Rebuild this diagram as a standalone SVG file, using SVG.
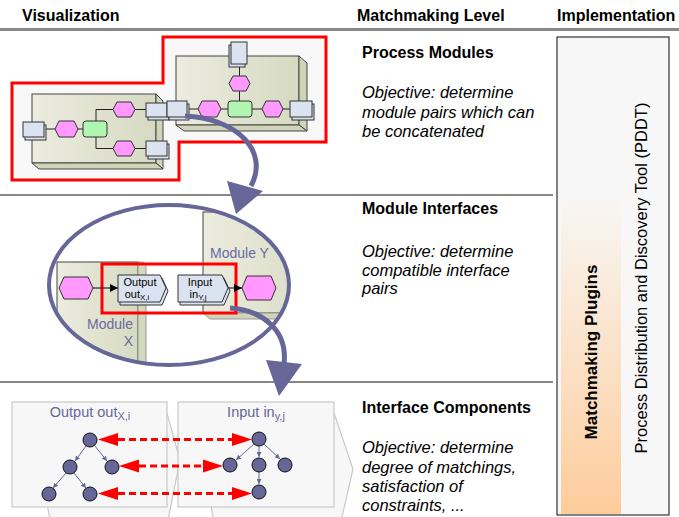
<svg xmlns="http://www.w3.org/2000/svg" width="679" height="517" viewBox="0 0 679 517">
<style>
text{font-family:"Liberation Sans",Arial,sans-serif;fill:#000}
.hdr{font-weight:bold;font-size:16px}
.ttl{font-weight:bold;font-size:16px}
.obj{font-style:italic;font-size:16.5px}
.mod{fill:url(#modg);stroke:#444;stroke-width:1}
.side{fill:#d0d4b8;stroke:#444;stroke-width:1}
.hex{fill:#ff99ff;stroke:#333;stroke-width:1}
.grn{fill:#b0f5b0;stroke:#333;stroke-width:1}
.ifc{fill:#dce3f0;stroke:#333;stroke-width:1}
.ln{stroke:#222;stroke-width:1;fill:none}
.blue{stroke:#666699;stroke-width:5;fill:none}
.bluefill{fill:#666699}
.lbl{fill:#6a6aa0;font-size:14px}
.node{fill:#666699;stroke:#111;stroke-width:1}
.tedge{stroke:#666699;stroke-width:1;fill:none;marker-end:url(#ta)}
.dash{stroke:#ff0000;stroke-width:3;stroke-dasharray:7,4;fill:none}
.redhead{fill:#ff0000}
.pane{fill:#f7f7f7;stroke:#c8c8c8;stroke-width:1.2}
.ttl2{fill:#666699;font-size:14.5px}
.small{font-size:11px}
</style>
<defs>
<linearGradient id="modg" x1="0" y1="0" x2="1" y2="0">
<stop offset="0" stop-color="#ececdf"/>
<stop offset="1" stop-color="#d6dac2"/>
</linearGradient>
<linearGradient id="plug" x1="0" y1="0" x2="0" y2="1">
<stop offset="0" stop-color="#f8f6f3"/>
<stop offset="1" stop-color="#fecc9c"/>
</linearGradient>
<marker id="ba" viewBox="0 0 10 10" refX="10" refY="5" markerWidth="8" markerHeight="8" orient="auto" markerUnits="userSpaceOnUse">
<path d="M0,0 L10,5 L0,10 z" fill="#000"/>
</marker>
<marker id="ta" viewBox="0 0 10 10" refX="10" refY="5" markerWidth="5" markerHeight="5" orient="auto" markerUnits="userSpaceOnUse">
<path d="M0,0 L10,5 L0,10 z" fill="#666699"/>
</marker>
<clipPath id="ell"><ellipse cx="169" cy="285" rx="120" ry="80"/></clipPath>
</defs>

<!-- headers -->
<g id="headers">
<text class="hdr" x="22" y="21">Visualization</text>
<text class="hdr" x="357" y="21">Matchmaking Level</text>
<text class="hdr" x="557" y="21">Implementation</text>
<line x1="0" y1="29.5" x2="679" y2="29.5" stroke="#888" stroke-width="3"/>
<line x1="0" y1="195" x2="553" y2="195" stroke="#111" stroke-width="1"/>
<line x1="0" y1="382" x2="553" y2="382" stroke="#111" stroke-width="1"/>
</g>

<!-- implementation column -->
<g id="pddt">
<rect x="557" y="37" width="112" height="478" fill="#f7f7f7" stroke="#333" stroke-width="1.2"/>
<text font-size="16.5" transform="translate(647,278) rotate(-90)" text-anchor="middle">Process Distribution and Discovery Tool (PDDT)</text>
</g>
<g id="plugins">
<rect x="561" y="200" width="60" height="314" fill="url(#plug)"/>
<text font-size="17" font-weight="bold" transform="translate(597,352) rotate(-90)" text-anchor="middle">Matchmaking Plugins</text>
</g>

<!-- level texts -->
<g id="level1">
<text class="ttl" x="362" y="58">Process Modules</text>
<text class="obj" x="362" y="98">Objective: determine</text>
<text class="obj" x="362" y="118">module pairs which can</text>
<text class="obj" x="362" y="137">be concatenated</text>
</g>
<g id="level2">
<text class="ttl" x="362" y="214">Module Interfaces</text>
<text class="obj" x="362" y="257">Objective: determine</text>
<text class="obj" x="362" y="276">compatible interface</text>
<text class="obj" x="362" y="294">pairs</text>
</g>
<g id="level3">
<text class="ttl" x="362" y="413">Interface Components</text>
<text class="obj" x="362" y="453">Objective: determine</text>
<text class="obj" x="362" y="473">degree of matchings,</text>
<text class="obj" x="362" y="492">satisfaction of</text>
<text class="obj" x="362" y="511">constraints, ...</text>
</g>

<!-- top: process modules -->
<g id="process-modules">
<polygon points="12,83 163,83 163,37 326,37 326,142 179,142 179,180 12,180" fill="#f8f8f8" stroke="#ff0000" stroke-width="3"/>
<!-- left module -->
<g id="moduleA">
<rect class="mod" x="32" y="94" width="124" height="69"/>
<polygon class="side" points="156,94 163,101 163,169 156,163"/>
<polygon class="side" points="32,163 156,163 163,169 39,169"/>
<line class="ln" x1="44" y1="129" x2="55" y2="129"/>
<line class="ln" x1="78" y1="129" x2="83" y2="129"/>
<polyline class="ln" points="96,121 96,109.5 113,109.5"/>
<polyline class="ln" points="96,137 96,148.5 113,148.5"/>
<line class="ln" x1="135" y1="109.5" x2="146" y2="109.5"/>
<line class="ln" x1="135" y1="148.5" x2="146" y2="148.5"/>
<rect class="ifc" x="25" y="125" width="21" height="15"/>
<rect class="ifc" x="23" y="122" width="21" height="15"/>
<polygon class="hex" points="59,121 74,121 78,129 74,137 59,137 55,129"/>
<rect class="grn" x="83" y="121" width="24" height="16" rx="3"/>
<polygon class="hex" points="117,102 131,102 135,109.5 131,117 117,117 113,109.5"/>
<polygon class="hex" points="117,141 131,141 135,148.5 131,156 117,156 113,148.5"/>
<rect class="ifc" x="148" y="106" width="21" height="14"/>
<rect class="ifc" x="146" y="103" width="21" height="14"/>
<rect class="ifc" x="148" y="144" width="21" height="15"/>
<rect class="ifc" x="146" y="141" width="21" height="15"/>
</g>
<!-- right module -->
<g id="moduleB">
<rect class="mod" x="176" y="56" width="123" height="69"/>
<polygon class="side" points="299,56 307,63 307,131 299,125"/>
<polygon class="side" points="176,125 299,125 307,131 184,131"/>
<line class="ln" x1="239.5" y1="64" x2="239.5" y2="76"/>
<line class="ln" x1="239.5" y1="91" x2="239.5" y2="101"/>
<line class="ln" x1="187" y1="109" x2="198" y2="109"/>
<line class="ln" x1="221" y1="109" x2="228" y2="109"/>
<line class="ln" x1="252" y1="109" x2="262" y2="109"/>
<line class="ln" x1="283" y1="109" x2="290" y2="109"/>
<rect class="ifc" x="229" y="45" width="16" height="22"/>
<rect class="ifc" x="231" y="42" width="16" height="22"/>
<polygon class="hex" points="233,76 246,76 250,83.5 246,91 233,91 229,83.5"/>
<rect class="ifc" x="169" y="104" width="20" height="16"/>
<rect class="ifc" x="167" y="101" width="20" height="16"/>
<polygon class="hex" points="202,101 217,101 221,109 217,117 202,117 198,109"/>
<rect class="grn" x="228" y="101" width="24" height="16" rx="3"/>
<polygon class="hex" points="266,101 279,101 283,109 279,117 266,117 262,109"/>
<rect class="ifc" x="292" y="104" width="22" height="16"/>
<rect class="ifc" x="290" y="101" width="22" height="16"/>
</g>
</g>

<!-- middle: module interfaces -->
<g id="module-interfaces">
<g clip-path="url(#ell)">
<g id="moduleX">
<rect class="mod" x="57" y="262" width="81" height="140" stroke="#999"/>
<path d="M138,262 L142,262 Q146,262 146,267 L146,402 L138,402 z" fill="#d4d8bd" stroke="#999"/>
</g>
<g id="moduleY">
<rect class="mod" x="203" y="212" width="130" height="101" stroke="#999"/>
<polygon points="203,313 333,313 340,319 210,319" fill="#d0d4b8" stroke="#999"/>
</g>
</g>
<text class="lbl" x="133" y="329" text-anchor="end">Module</text>
<text class="lbl" x="133" y="346" text-anchor="end">X</text>
<text class="lbl" x="210" y="258">Module Y</text>
<ellipse cx="169" cy="285" rx="120" ry="80" fill="none" stroke="#666699" stroke-width="4"/>
<rect x="102" y="264" width="134" height="49" fill="none" stroke="#ff0000" stroke-width="3"/>
<polygon class="hex" points="64,277 88,277 93,288 88,299 64,299 59,288"/>
<polygon class="hex" points="247,276 271,276 276,288 271,300 247,300 242,288"/>
<line x1="93" y1="288" x2="118" y2="288" stroke="#000" stroke-width="1" marker-end="url(#ba)"/>
<line x1="227" y1="288" x2="242" y2="288" stroke="#000" stroke-width="1" marker-end="url(#ba)"/>
<g id="outputX">
<polygon class="ifc" points="120,278 162,278 168,291 162,305 120,305"/>
<polygon class="ifc" points="118,275 160,275 166,288 160,302 118,302"/>
<text class="small" x="140" y="285.5" text-anchor="middle">Output</text>
<text class="small" x="137" y="298" text-anchor="middle">out<tspan font-size="8" dy="2">X,i</tspan></text>
</g>
<g id="inputY">
<polygon class="ifc" points="180,278 224,278 230,291 224,305 180,305"/>
<polygon class="ifc" points="178,275 222,275 228,288 222,302 178,302"/>
<text class="small" x="200" y="285.5" text-anchor="middle">Input</text>
<text class="small" x="198" y="298" text-anchor="middle">in<tspan font-size="8" dy="2">Y,j</tspan></text>
</g>
</g>

<!-- bottom: interface components -->
<g id="output-component">
<polygon class="pane" points="30,413 167,413 180,460 166,530 52,530"/>
<rect class="pane" x="12" y="402" width="155" height="105"/>
<text class="ttl2" x="90" y="417" text-anchor="middle">Output out<tspan font-size="11" dy="3">X,i</tspan></text>
<line class="tedge" x1="86" y1="446" x2="75" y2="461"/>
<line class="tedge" x1="95" y1="446" x2="107" y2="461"/>
<line class="tedge" x1="66" y1="473" x2="53" y2="488"/>
<line class="tedge" x1="74" y1="473" x2="86" y2="488"/>
<circle class="node" cx="90" cy="440" r="7"/>
<circle class="node" cx="70" cy="467" r="7"/>
<circle class="node" cx="112" cy="467" r="7"/>
<circle class="node" cx="49" cy="494" r="7"/>
<circle class="node" cx="90" cy="494" r="7"/>
</g>
<g id="input-component">
<polygon class="pane" points="196,413 334,413 353,469 339,530 215,530"/>
<rect class="pane" x="178" y="402" width="156" height="105"/>
<text class="ttl2" x="256" y="417" text-anchor="middle">Input in<tspan font-size="11" dy="3">y,j</tspan></text>
<line class="tedge" x1="254" y1="444" x2="236" y2="460"/>
<line class="tedge" x1="259" y1="446" x2="259" y2="457"/>
<line class="tedge" x1="264" y1="444" x2="280" y2="459"/>
<line class="tedge" x1="259" y1="472" x2="259" y2="484"/>
<circle class="node" cx="259" cy="439" r="7"/>
<circle class="node" cx="230" cy="465" r="7"/>
<circle class="node" cx="259" cy="465" r="7"/>
<circle class="node" cx="285" cy="465" r="7"/>
<circle class="node" cx="259" cy="492" r="7"/>
</g>

<!-- connectors -->
<g id="connectors">
<path class="blue" d="M185,116 C235,118 270,150 251,186"/>
<polygon class="bluefill" points="227,181 263,191 236,214"/>
<path class="blue" d="M230,308 C262,310 288,330 284,364"/>
<polygon class="bluefill" points="266,360 302,364 279,396"/>
<line class="dash" x1="118" y1="439.5" x2="232" y2="439.5"/>
<polygon class="redhead" points="98,439.5 118,433 118,446"/>
<polygon class="redhead" points="252,439.5 232,433 232,446"/>
<line class="dash" x1="139" y1="466" x2="203" y2="466"/>
<polygon class="redhead" points="119,466 139,459.5 139,472.5"/>
<polygon class="redhead" points="223,466 203,459.5 203,472.5"/>
<line class="dash" x1="118" y1="493.5" x2="232" y2="493.5"/>
<polygon class="redhead" points="98,493.5 118,487 118,500"/>
<polygon class="redhead" points="252,493.5 232,487 232,500"/>
</g>
</svg>
